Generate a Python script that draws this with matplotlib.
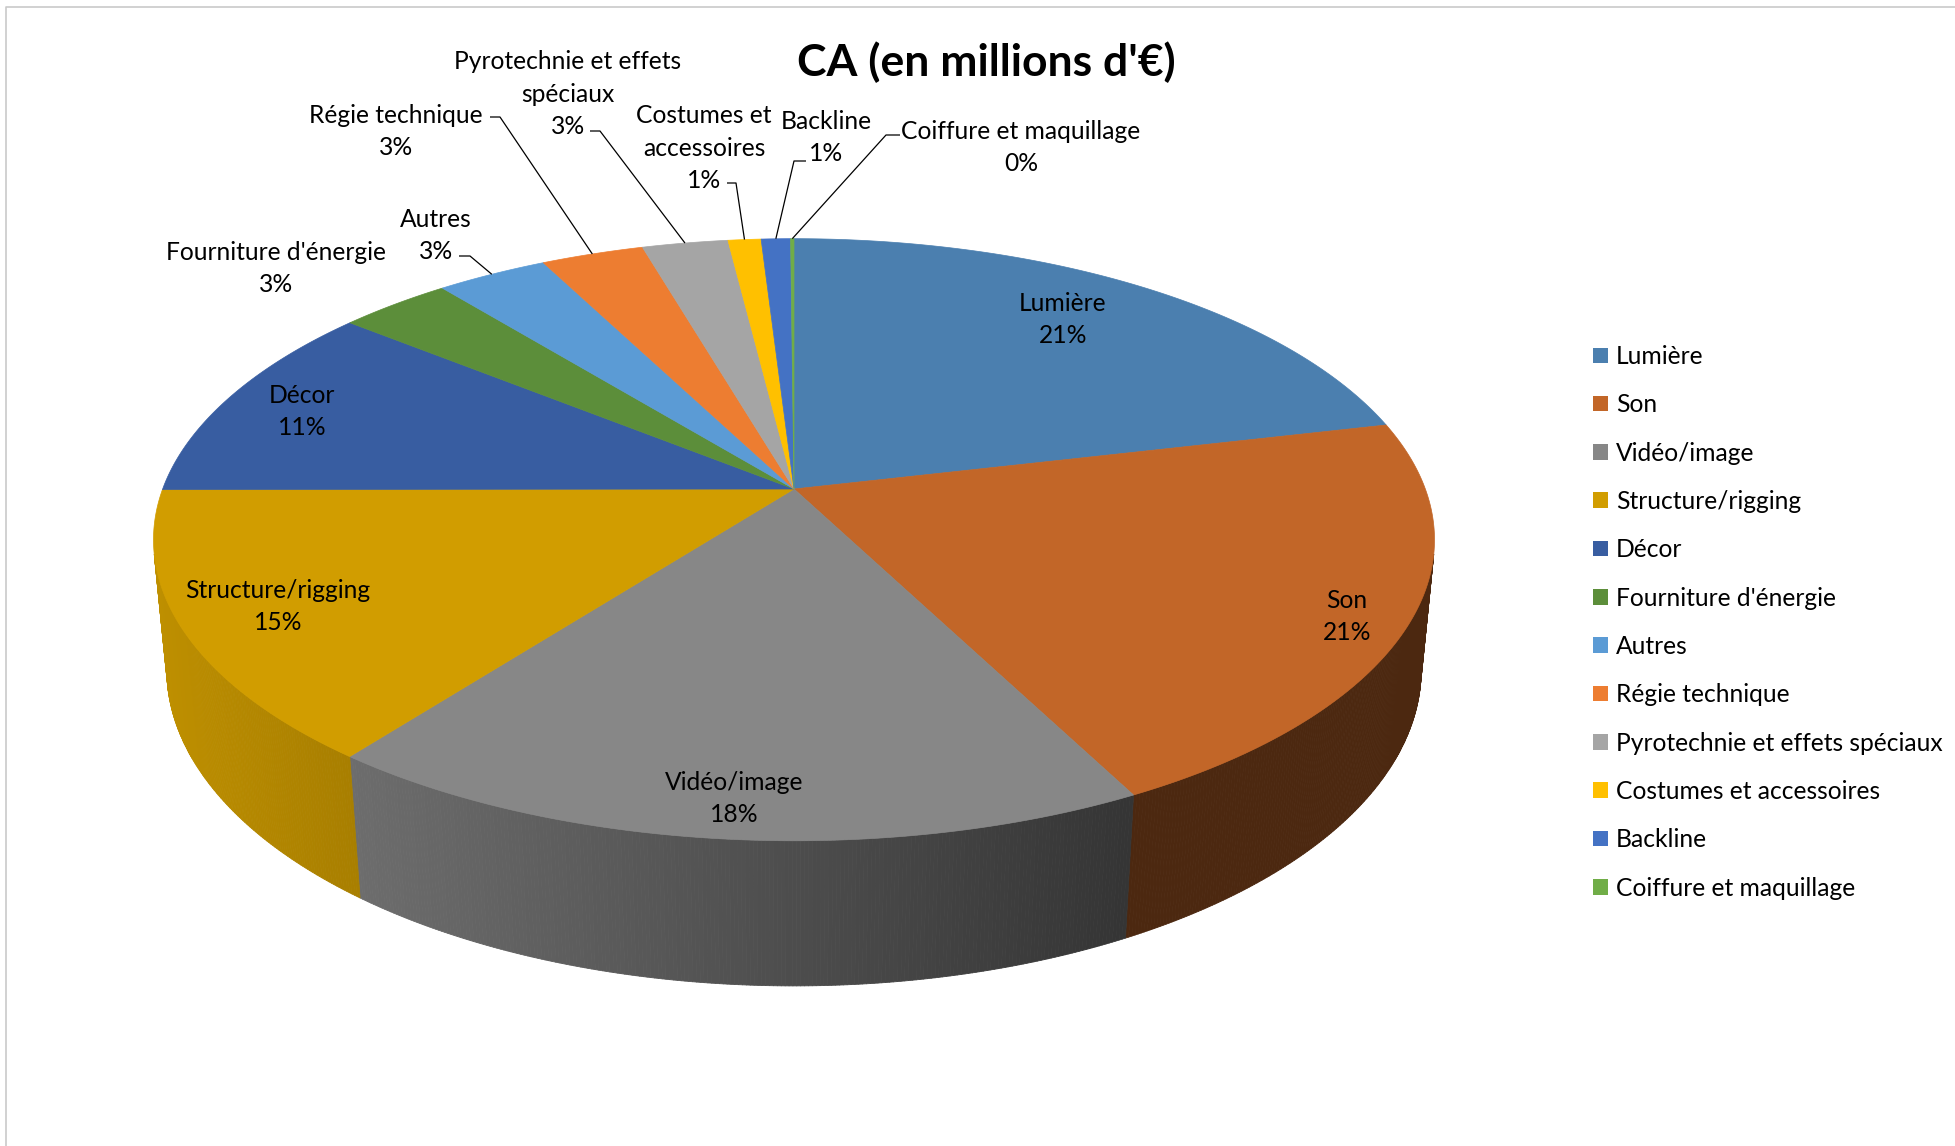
import numpy as np
import matplotlib
matplotlib.use("Agg")
import matplotlib.pyplot as plt
from matplotlib.collections import PolyCollection
from matplotlib.patches import Patch
from matplotlib.colors import to_rgb

# ---------------- data ----------------
categories = ["Lumière", "Son", "Vidéo/image", "Structure/rigging", "Décor",
              "Fourniture d'énergie", "Autres", "Régie technique",
              "Pyrotechnie et effets spéciaux", "Costumes et accessoires",
              "Backline", "Coiffure et maquillage"]
values = [21.36, 21.10, 18.00, 14.54, 10.85, 3.34, 3.30, 3.05, 2.55, 0.98, 0.87, 0.10]
label_names = ["Lumière", "Son", "Vidéo/image", "Structure/rigging", "Décor",
               "Fourniture d'énergie", "Autres", "Régie technique",
               "Pyrotechnie et effets\nspéciaux", "Costumes et\naccessoires",
               "Backline", "Coiffure et maquillage"]
title = "CA (en millions d'€)"

# ---------------- style ----------------
base_colors = ["#5B9BD5", "#ED7D31", "#A5A5A5", "#FFC000", "#4472C4", "#70AD47",
               "#5B9BD5", "#ED7D31", "#A5A5A5", "#FFC000", "#4472C4", "#70AD47"]
top_shade = [0.82] * 6 + [1.0] * 6

# label block centres (pixel layout) and leader starts (start, elbow)
label_pos = [(1063, 318), (1347, 615), (734, 797), (278, 605), (302, 410),
             (276, 267), (436, 234), (396, 130), (568, 93), (704, 147),
             (826, 136), (1021, 146)]
leaders = {6: ((459, 256), (470, 256)),
           7: ((490, 117), (500, 117)),
           8: ((590, 131), (600, 131)),
           9: ((727, 183), (736, 183)),
           10: ((806, 161), (794, 161)),
           11: ((900, 135), (886, 135))}

W, HP = 1955, 1146
FONT = "Lato"
FS = 17.7
LINE_PITCH = 32.5
CAP_HALF = 8.9
plt.rcParams["font.family"] = [FONT, "DejaVu Sans"]

fig = plt.figure(figsize=(W / 100, HP / 100), dpi=100)
ax = fig.add_axes([0, 0, 1, 1])
ax.set_xlim(0, W)
ax.set_ylim(HP, 0)
ax.axis("off")

# chart border (partially visible)
ax.plot([6, 6, W + 5], [HP + 5, 7, 7], color="#C9C9C9", lw=1.2, zorder=0)

# ---------------- 3D projection ----------------
cx, cy = 794.0, 489.0
elev = np.deg2rad(27.6)
s, c = np.sin(elev), np.cos(elev)
Dist = 5.26
depth = 0.234
phi_ext = np.arccos(-c / Dist)
Fo = 640.5 / (np.sin(phi_ext) / (Dist + c * np.cos(phi_ext)))


def proj(phi, z=0.0):
    x = np.sin(phi)
    y = -np.cos(phi)
    den = Dist - c * y - s * z
    return cx + Fo * x / den, cy - Fo * (-s * y + c * z) / den


vals = np.array(values, dtype=float)
total = vals.sum()
fr = vals / total
bounds = np.concatenate([[0], np.cumsum(fr)]) * 2 * np.pi


def shade(col, f):
    r, g, b = to_rgb(col)
    return (r * f, g * f, b * f)


# side wall
vis_lo = np.arccos(-1.0 / (Dist * c))
vis_hi = 2 * np.pi - vis_lo
side_polys, side_cols = [], []
step = np.deg2rad(0.3)
for i in range(len(vals)):
    a0, a1 = max(bounds[i], vis_lo), min(bounds[i + 1], vis_hi)
    if a1 <= a0:
        continue
    n = max(2, int(np.ceil((a1 - a0) / step)) + 1)
    ph = np.linspace(a0, a1, n)
    for p0, p1 in zip(ph[:-1], ph[1:]):
        x0, y0 = proj(p0)
        x1, y1 = proj(p1)
        x2, y2 = proj(p1, -depth)
        x3, y3 = proj(p0, -depth)
        side_polys.append([(x0, y0), (x1, y1), (x2, y2), (x3, y3)])
        xm = 0.5 * (x0 + x1)
        f = np.clip(0.66 - 0.000436 * (xm - 350), 0.32, 1.0)
        side_cols.append(shade(base_colors[i], f))
ax.add_collection(PolyCollection(side_polys, facecolors=side_cols,
                                 edgecolors=side_cols, linewidths=0.6,
                                 zorder=1))

# top faces
top_cols = [shade(col, f) for col, f in zip(base_colors, top_shade)]
for i in range(len(vals)):
    n = max(3, int(np.degrees(bounds[i + 1] - bounds[i]) * 3) + 2)
    ph = np.linspace(bounds[i], bounds[i + 1], n)
    X, Y = proj(ph)
    poly = np.column_stack([np.r_[cx, X], np.r_[cy, Y]])
    ax.fill(poly[:, 0], poly[:, 1], facecolor=top_cols[i],
            edgecolor=top_cols[i], lw=0.5, zorder=2)

# data labels (one text per line, centred block)
for i in range(len(vals)):
    pct = int(np.floor(fr[i] * 100 + 0.5))
    lines = label_names[i].split("\n") + [f"{pct}%"]
    lx, ly = label_pos[i]
    nl = len(lines)
    for k, line in enumerate(lines):
        yb = ly + (k - (nl - 1) / 2) * LINE_PITCH + CAP_HALF
        ax.text(lx, yb, line, ha="center", va="baseline", fontsize=FS,
                color="black", zorder=5)
    if i in leaders:
        (sx0, sy0), (ex, ey) = leaders[i]
        mid = 0.5 * (bounds[i] + bounds[i + 1])
        axp, ayp = proj(mid)
        ax.plot([sx0, ex, axp], [sy0, ey, ayp], color="black", lw=0.9,
                zorder=4, solid_capstyle="butt")

# title
ax.text(986.5, 76, title, ha="center", va="baseline", fontsize=32,
        fontweight="bold", color="black", zorder=5)

# legend
handles = [Patch(facecolor=top_cols[i], edgecolor="none") for i in range(len(vals))]
ax.legend(handles, categories, loc="upper left", bbox_to_anchor=(1593, 345),
          bbox_transform=ax.transData, frameon=False, fontsize=FS,
          handlelength=0.6, handleheight=0.6, handletextpad=0.33,
          labelspacing=1.03, borderpad=0, borderaxespad=0)

fig.savefig("out.png", dpi=100)
